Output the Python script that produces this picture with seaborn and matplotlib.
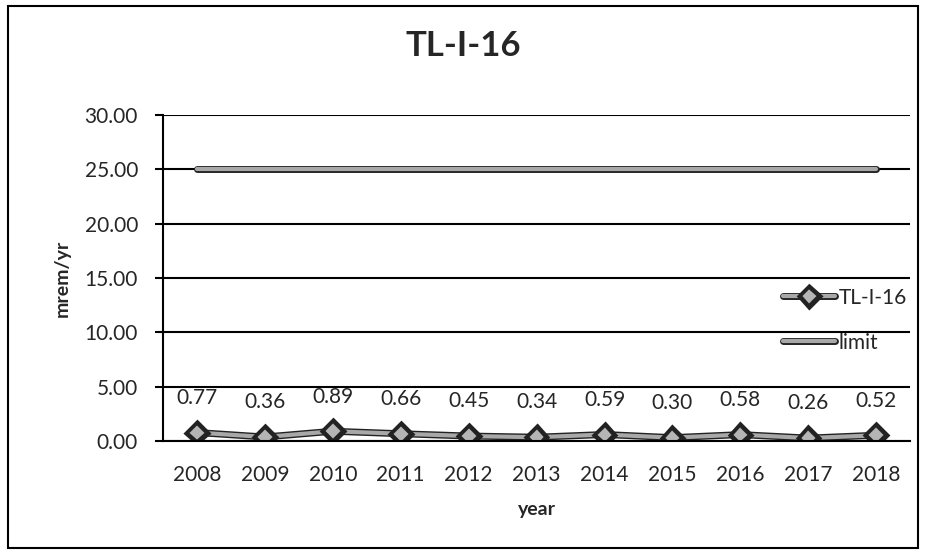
import numpy as np
import pandas as pd
import seaborn as sns
import matplotlib.pyplot as plt
import matplotlib.patheffects as pe
from matplotlib.patches import Rectangle

years = [2008, 2009, 2010, 2011, 2012, 2013, 2014, 2015, 2016, 2017, 2018]
dose = [0.77, 0.36, 0.89, 0.66, 0.45, 0.34, 0.59, 0.30, 0.58, 0.26, 0.52]
limit = [25, 25, 25, 25, 25, 25, 25, 25, 25, 25, 25]
labels = ['0.77', '0.36', '0.89', '0.66', '0.45', '0.34', '0.59', '0.30', '0.58', '0.26', '0.52']

df = pd.DataFrame({'year': years, 'TL-I-16': dose, 'limit': limit})

sns.set_style('white')
plt.rcParams['font.family'] = ['Lato', 'DejaVu Sans']

fig = plt.figure(figsize=(9.26, 5.56), dpi=100)
ax = fig.add_axes([0.176, 0.207, 0.807, 0.586])

outline = [pe.Stroke(linewidth=5, foreground='#222222'), pe.Normal()]
sns.lineplot(data=df, x='year', y='TL-I-16', ax=ax, color='#a8a8a8', linewidth=3,
             marker='D', markersize=9, markeredgecolor='#222222', markerfacecolor='#b5b5b5',
             markeredgewidth=1.5, label='TL-I-16', path_effects=outline)
sns.lineplot(data=df, x='year', y='limit', ax=ax, color='#a8a8a8', linewidth=3,
             label='limit', path_effects=outline)

for x, y, t in zip(years, dose, labels):
    ax.annotate(t, (x, y), xytext=(0, 25), textcoords='offset points',
                ha='center', va='center', fontsize=15)

ax.set_xlim(2007.5, 2018.5)
ax.set_ylim(0, 30)
ax.set_yticks(np.arange(0, 31, 5))
ax.set_yticklabels([f'{v:.2f}' for v in np.arange(0, 31, 5)], fontsize=15)
ax.set_xticks(years)
ax.set_xticklabels([str(y) for y in years], fontsize=15)
ax.set_xticks(np.arange(2007.5, 2019, 1), minor=True)
ax.tick_params(axis='x', which='major', length=0, pad=17)
ax.tick_params(axis='x', which='minor', length=6, width=1.5, color='black', direction='out')
ax.tick_params(axis='y', length=6, width=1.5, color='black', direction='out', left=True, pad=12)
ax.grid(axis='y', color='black', linewidth=1.5)
ax.set_axisbelow(True)
for s in ['top', 'right']:
    ax.spines[s].set_visible(False)
for s in ['left', 'bottom']:
    ax.spines[s].set_color('black')
    ax.spines[s].set_linewidth(1.5)

ax.set_xlabel('year', fontsize=14, fontweight='bold', labelpad=12)
ax.set_ylabel('mrem/yr', fontsize=14, fontweight='bold', labelpad=10)
fig.text(0.5, 0.918, 'TL-I-16', ha='center', va='center', fontsize=25, fontweight='bold')

leg = ax.legend(loc='center left', bbox_to_anchor=(0.846, 0.424), bbox_transform=fig.transFigure,
                frameon=False, fontsize=15, handlelength=2.5, handletextpad=0.15,
                labelspacing=1.2, borderaxespad=0, borderpad=0)

fig.patches.append(Rectangle((0.009, 0.014), 0.982, 0.976, transform=fig.transFigure,
                             fill=False, edgecolor='black', linewidth=1.5))

fig.savefig('out.png', dpi=100)
